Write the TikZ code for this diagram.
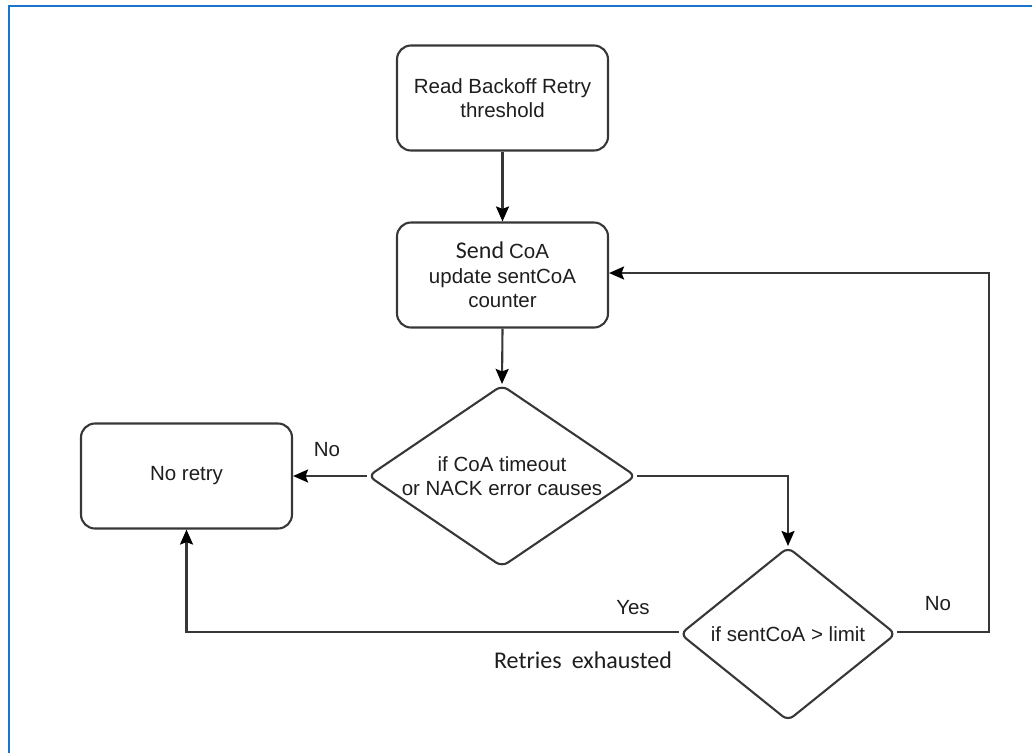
\documentclass[tikz,border=0pt]{standalone}
\usepackage{fontspec}
\setmainfont{Liberation Sans}
\newfontfamily\calfont{Carlito}
\usetikzlibrary{shapes.geometric,arrows.meta}
\definecolor{frameblue}{RGB}{24,118,205}
\definecolor{linegray}{RGB}{55,55,55}
\definecolor{txt}{RGB}{30,30,30}
\begin{document}
\begin{tikzpicture}[x=1pt,y=-1pt,
  every node/.style={text=txt, font=\fontsize{20.5}{24.5}\selectfont},
  procbox/.style={draw=linegray, line width=2.1pt, rounded corners=14pt, rectangle,
    minimum width=211pt, minimum height=105pt, align=center, inner sep=0pt},
  decision/.style={draw=linegray, line width=2.1pt, rounded corners=7pt, diamond,
    align=center, inner sep=0pt},
  flow/.style={draw=linegray, line width=2.1pt,
    -{Stealth[length=15pt,width=13pt,inset=2.5pt,color=black]}},
  lbl/.style={inner sep=0pt}]
\useasboundingbox (0,0) rectangle (1032,753);
% page frame
\draw[frameblue, line width=2.6pt] (9,753) -- (9,6) -- (1032,6);

% process boxes
\node[procbox] (read) at (502.5,98) {Read Backoff Retry\\threshold};
\node[procbox] (send) at (502.5,275) {{\calfont\fontsize{24}{26}\selectfont Send}\hspace{5pt}CoA\\update sentCoA\\counter};
\node[procbox] (noretry) at (186.5,476) {No retry};

% decisions
\node[decision, aspect=1.47, minimum width=268pt, minimum height=182pt] (check) at (502,476)
  {if CoA timeout\\or NACK error causes};
\node[decision, aspect=1.24, minimum width=216pt, minimum height=174pt] (limit) at (788,634)
  {if sentCoA \textgreater{} limit};

% helper points
\coordinate (c1) at (788,476);
\coordinate (yesbend) at (186.5,632);
\coordinate (nobottom) at (989,632);
\coordinate (notop) at (989,273);

% connectors
\draw[flow] (read.south) -- (send.north);
\draw[flow] (send.south) -- (check.north);
\draw[flow] (check.west) -- (noretry.east);
\draw[flow] (check.east) -- (c1) -- (limit.north);
\draw[flow] (limit.west |- yesbend) -- (yesbend) -- (noretry.south);
\draw[flow] (limit.east |- nobottom) -- (nobottom) -- (notop) -- (send.east |- notop);

% labels
\node[lbl] (lno1) at (327,450) {No};
\node[lbl] (lno2) at (938,604) {No};
\node[lbl] (lyes) at (633,608) {Yes};
\node[lbl] (lexh) at (583,660) {\calfont\fontsize{24}{26}\selectfont Retries\hspace{10pt}exhausted};
\end{tikzpicture}
\end{document}
